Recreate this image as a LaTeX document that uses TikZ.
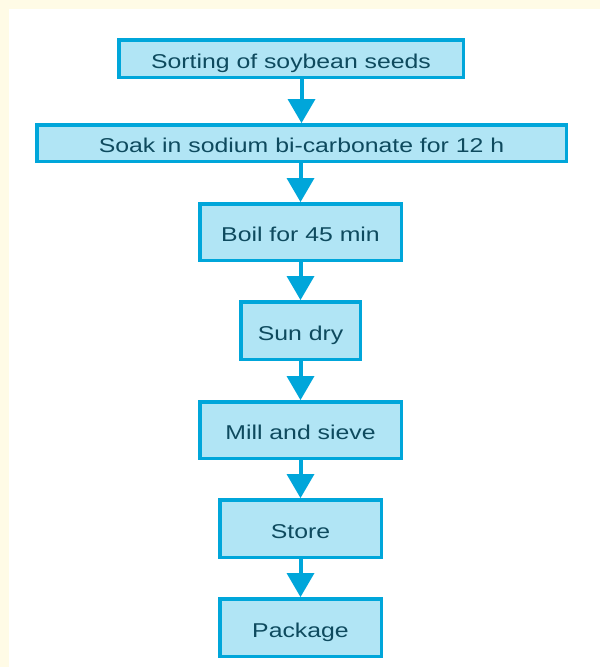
\documentclass[tikz,border=0pt]{standalone}
\usepackage{fontspec}
\usepackage{graphicx}
\setmainfont{Liberation Sans}
\usetikzlibrary{arrows.meta}
\definecolor{cream}{HTML}{FFFBE6}
\definecolor{boxline}{HTML}{00A6DA}
\definecolor{boxfill}{HTML}{B1E5F5}
\definecolor{boxtext}{HTML}{0E4A5E}
\tikzset{
  stepbox/.style={draw=boxline, fill=boxfill, line width=3.5pt, inner sep=0pt,
    text=boxtext, font=\fontsize{20}{24}\selectfont, text height=20pt, text depth=0.6pt},
  flow/.style={draw=boxline, line width=4pt,
    -{Triangle[width=28pt,length=24pt,line width=0pt,fill=boxline]}}
}
\newcommand{\wt}[1]{\scalebox{1.24}[1]{#1}}
\begin{document}
\begin{tikzpicture}[x=1pt,y=-1pt]
\fill[cream] (0,0) rectangle (600,667);
\fill[white] (9,9) rectangle (600,667);
\useasboundingbox (0,0) rectangle (600,667);
\node[stepbox, minimum width=344.5pt, minimum height=37.5pt] (s1) at (291,58.5) {\wt{Sorting of soybean seeds}};
\node[stepbox, minimum width=529.5pt, minimum height=36.5pt] (s2) at (301.5,143) {\wt{Soak in sodium bi-carbonate for 12 h}};
\node[stepbox, minimum width=201.5pt, minimum height=56.5pt] (s3) at (300.5,232) {\wt{Boil for 45 min}};
\node[stepbox, minimum width=119.5pt, minimum height=57.5pt] (s4) at (300.5,330.5) {\wt{Sun dry}};
\node[stepbox, minimum width=201.5pt, minimum height=56.5pt] (s5) at (300.5,430) {\wt{Mill and sieve}};
\node[stepbox, minimum width=161.5pt, minimum height=57.5pt] (s6) at (300.5,528.5) {\wt{Store}};
\node[stepbox, minimum width=161.5pt, minimum height=57.5pt] (s7) at (300.5,627.5) {\wt{Package}};
\draw[flow] (s2.north |- s1.south) -- (s2.north);
\draw[flow] (s3.north |- s2.south) -- (s3.north);
\draw[flow] (s3.south) -- (s4.north);
\draw[flow] (s4.south) -- (s5.north);
\draw[flow] (s5.south) -- (s6.north);
\draw[flow] (s6.south) -- (s7.north);
\end{tikzpicture}
\end{document}
